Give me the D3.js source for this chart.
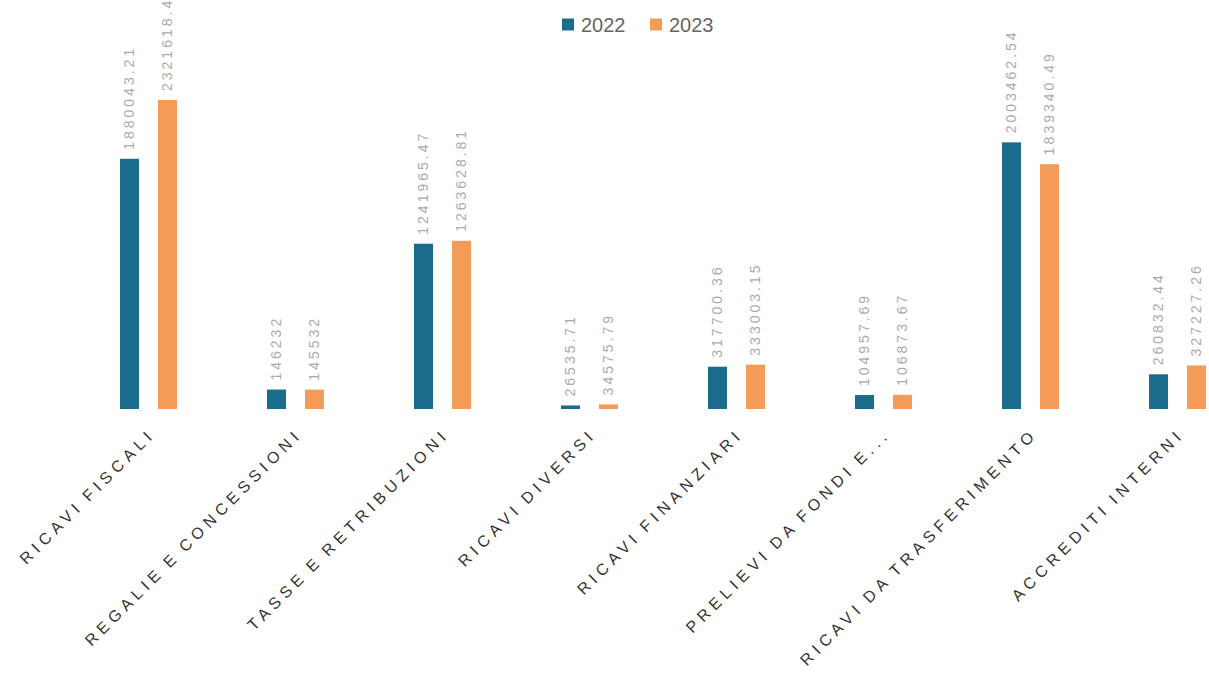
<!DOCTYPE html>
<html>
<head>
<meta charset="utf-8">
<script src="https://cdn.jsdelivr.net/npm/d3@7/dist/d3.min.js"></script>
<style>
  html, body { margin: 0; padding: 0; background: #ffffff; }
  svg { display: block; font-family: "Liberation Sans", Arial, sans-serif; }
</style>
</head>
<body>
<svg id="chart" width="1209" height="675"></svg>
<script>
// Revenue categories and yearly totals
const categories = [
  "RICAVI FISCALI",
  "REGALIE E CONCESSIONI",
  "TASSE E RETRIBUZIONI",
  "RICAVI DIVERSI",
  "RICAVI FINANZIARI",
  "PRELIEVI DA FONDI E...",
  "RICAVI DA TRASFERIMENTO",
  "ACCREDITI INTERNI"
];
const series = ["2022", "2023"];
const values2022 = [1880043.21, 146232, 1241965.47, 26535.71, 317700.36, 104957.69, 2003462.54, 260832.44];
const values2023 = [2321618.43, 145532, 1263628.81, 34575.79, 333003.15, 106873.67, 1839340.49, 327227.26];
const seriesColors = ["#1b6b8d", "#f59b58"];

const rows = categories.map((c, i) => ({ category: c, v: [values2022[i], values2023[i]] }));

const svg = d3.select("#chart");

const baseline = 409;
const x0 = d3.scaleBand().domain(categories).range([75, 1251]).padding(0);
const x1 = d3.scaleBand().domain(series).range([45, 102]).paddingInner(0.5).paddingOuter(0);
const y = d3.scaleLinear()
  .domain([0, d3.max(values2022.concat(values2023))])
  .range([baseline, 100]);

// Bars
const groups = svg.append("g").selectAll("g")
  .data(rows).join("g")
  .attr("transform", d => `translate(${x0(d.category)},0)`);

groups.selectAll("rect")
  .data(d => series.map((s, k) => ({ s, k, v: d.v[k] })))
  .join("rect")
  .attr("x", d => x1(d.s))
  .attr("width", x1.bandwidth())
  .attr("y", d => y(d.v))
  .attr("height", d => baseline - y(d.v))
  .attr("fill", d => seriesColors[d.k]);

// Value labels, vertical above each bar
groups.selectAll("text.val")
  .data(d => series.map((s, k) => ({ s, k, v: d.v[k] })))
  .join("text")
  .attr("class", "val")
  .attr("transform", d => `translate(${x1(d.s) + x1.bandwidth() / 2},${y(d.v) - 9}) rotate(-90)`)
  .attr("dy", "0.35em")
  .attr("text-anchor", "start")
  .attr("font-size", 14)
  .attr("letter-spacing", 3)
  .attr("fill", "#ababab")
  .text(d => String(d.v));

// Category axis labels, slanted
svg.append("g").selectAll("text")
  .data(categories).join("text")
  .attr("transform", c => `translate(${x0(c) + x0.bandwidth() / 2 + 8},${baseline + 26}) rotate(-45)`)
  .attr("text-anchor", "end")
  .attr("font-size", 16)
  .attr("letter-spacing", 5)
  .attr("word-spacing", -3)
  .attr("fill", "#333333")
  .text(c => c);

// Legend
const legend = svg.append("g").attr("transform", "translate(562,18)");
const lx = d3.scaleOrdinal().domain(series).range([0, 88]);
const li = legend.selectAll("g").data(series).join("g")
  .attr("transform", s => `translate(${lx(s)},0)`);
li.append("rect").attr("y", 0.5).attr("width", 12).attr("height", 12)
  .attr("fill", (s, i) => seriesColors[i]);
li.append("text").attr("x", 19).attr("y", 13.5)
  .attr("font-size", 20).attr("fill", "#666666")
  .text(s => s);
</script>
</body>
</html>
